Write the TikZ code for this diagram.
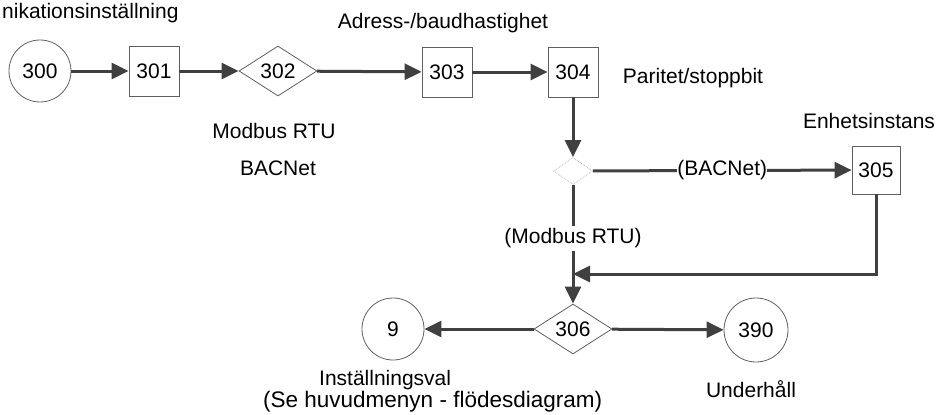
\documentclass[tikz,border=0pt]{standalone}
\usepackage{fontspec}
\setmainfont{Liberation Sans}
\usepackage{xcolor}
\usepackage{tikz}
\usetikzlibrary{arrows.meta,shapes.geometric}
\definecolor{flowgray}{RGB}{64,64,64}
\definecolor{edgegray}{RGB}{95,95,95}

\begin{document}
\begin{tikzpicture}[x=1pt, y=-1pt, font=\fontsize{21}{25}\selectfont,
  >={Triangle[length=17pt, width=16pt]},
  stepbox/.style={draw=edgegray, line width=0.8pt, minimum size=50pt, inner sep=0pt},
  stopnode/.style={circle, draw=edgegray, line width=0.8pt, minimum size=62pt, inner sep=0pt},
  choice/.style={diamond, draw=edgegray, line width=0.8pt, minimum width=78pt, minimum height=50pt, inner sep=0pt},
  flow/.style={->, draw=flowgray, line width=3pt},
  note/.style={anchor=base, inner sep=0pt}]

\useasboundingbox (0,0) rectangle (938,415);

% first row
\node[stopnode] (n300) at (40,71) {300};
\node[stepbox] (n301) at (154,71) {301};
\node[choice] (n302) at (278,71) {302};
\node[stepbox] (n303) at (447,72) {303};
\node[stepbox] (n304) at (573,72) {304};

% protocol choice
\node[choice, draw=gray!55, densely dotted, minimum width=39pt, minimum height=27pt] (dec) at (573,171) {};
\node[stepbox, minimum size=48pt] (n305) at (876,170) {305};
\coordinate (join) at (573,274);

% last row
\node[choice] (n306) at (573,329) {306};
\node[stopnode] (n9) at (393,329) {9};
\node[stopnode, minimum size=64pt] (n390) at (756,330) {390};

% texts
\node[note, anchor=base west] (tcomm) at (2,18) {nikationsinställning};
\node[note] (taddr) at (443,28) {Adress-/baudhastighet};
\node[note] (tmodbus) at (274,138) {Modbus RTU};
\node[note] (tbacnet) at (278,175) {BACNet};
\node[note] (tparity) at (693,83) {Paritet/stoppbit};
\node[note] (tinst) at (869,128) {Enhetsinstans};
\node[note, anchor=base west, align=left, font=\fontsize{21}{18}\selectfont] (tsetup) at (263,407)
  {\hspace*{56pt}Inställningsval\\{\fontsize{22.5}{18}\selectfont(Se huvudmenyn - flödesdiagram)}};
\node[note] (tmaint) at (751,397) {Underhåll};

% connectors
\draw[flow] (n300) -- (n301);
\draw[flow] (n301) -- (n302);
\draw[flow] (n302) -- (n303);
\draw[flow] (n303) -- (n304);
\draw[flow] (n304) -- (dec);
\draw[flow] (dec) -- node[fill=white, inner xsep=0pt, inner ysep=1pt] (lbac) {(BACNet)} (n305);
\draw[flow] (dec) -- node[pos=0.45, fill=white, inner xsep=1pt, inner ysep=3pt] (lmod) {(Modbus RTU)} (n306);
\draw[flow] (n305) |- (join);
\draw[flow] (n306) -- (n9);
\draw[flow] (n306) -- (n390);

\end{tikzpicture}
\end{document}
